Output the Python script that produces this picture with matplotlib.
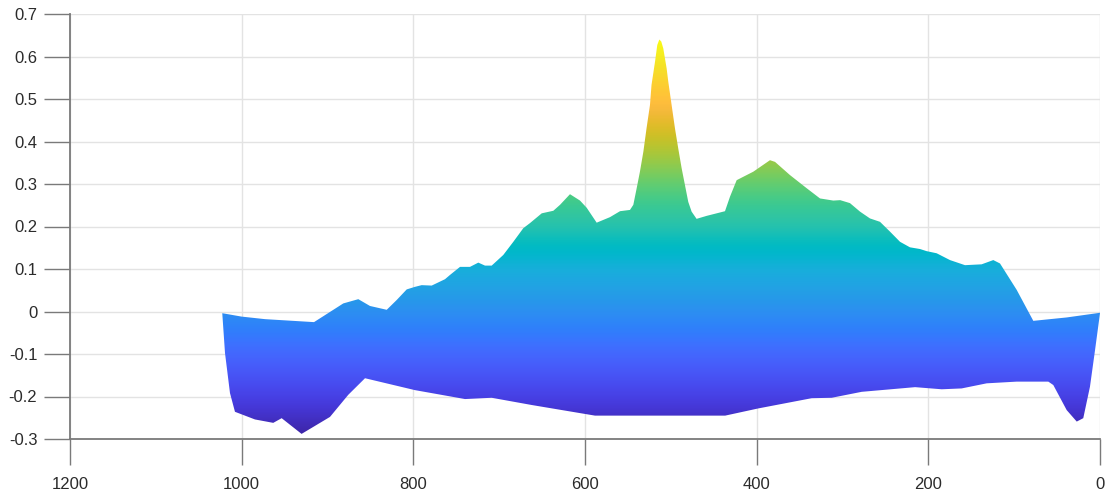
import numpy as np
import matplotlib
matplotlib.use("Agg")
import matplotlib.pyplot as plt
from matplotlib.colors import LinearSegmentedColormap
from matplotlib.patches import Polygon

# Upper edge of the band
x_top = [1022.6, 1000.1, 972.8, 915.7, 893.2, 881.6, 864.1, 850.5, 831.0, 819.4,
         807.7, 798.1, 790.3, 778.6, 763.1, 757.3, 745.6, 734.0, 724.3, 716.5,
         708.7, 695.2, 683.5, 671.9, 664.1, 650.4, 636.9, 629.1, 617.5, 605.8,
         598.0, 586.4, 570.9, 559.2, 547.6, 543.7, 539.8, 536.0, 532.0, 528.3,
         524.3, 522.5, 518.4, 515.8, 513.4, 511.1, 508.8, 504.9, 503.0, 499.1,
         495.2, 491.4, 487.4, 483.6, 479.7, 475.8, 470.0, 458.3, 442.7, 436.9,
         431.1, 423.3, 403.9, 384.5, 378.6, 361.2, 341.7, 326.2, 310.7, 302.7,
         291.3, 279.6, 268.0, 256.3, 244.7, 233.0, 221.4, 209.7, 202.0, 190.3,
         174.8, 157.3, 137.9, 124.3, 116.5, 97.1, 77.7, 38.8, 0.0]
y_top = [-0.004, -0.012, -0.018, -0.025, 0.004, 0.019, 0.029, 0.013, 0.004, 0.027,
         0.052, 0.058, 0.062, 0.061, 0.076, 0.086, 0.105, 0.105, 0.115, 0.108,
         0.108, 0.133, 0.164, 0.196, 0.208, 0.231, 0.237, 0.251, 0.276, 0.261,
         0.244, 0.209, 0.222, 0.236, 0.239, 0.251, 0.290, 0.329, 0.376, 0.431,
         0.486, 0.533, 0.588, 0.627, 0.640, 0.635, 0.619, 0.572, 0.541, 0.486,
         0.431, 0.384, 0.337, 0.298, 0.258, 0.235, 0.218, 0.225, 0.233, 0.236,
         0.270, 0.309, 0.329, 0.356, 0.352, 0.321, 0.290, 0.266, 0.261, 0.262,
         0.255, 0.235, 0.219, 0.211, 0.188, 0.164, 0.151, 0.147, 0.142, 0.137,
         0.121, 0.109, 0.111, 0.121, 0.113, 0.051, -0.022, -0.014, -0.003]

# Lower edge of the band
x_bot = [1022.6, 1019.4, 1013.6, 1007.8, 984.5, 963.2, 953.4, 930.2, 897.1, 875.8,
         856.3, 798.1, 739.8, 708.7, 662.1, 588.3, 506.8, 436.7, 398.0, 335.9,
         312.6, 277.7, 215.4, 184.4, 161.2, 132.0, 97.1, 60.2, 54.4, 38.8,
         27.1, 19.5, 11.7, 5.8, 0.0]
y_bot = [-0.004, -0.098, -0.192, -0.236, -0.254, -0.262, -0.251, -0.288, -0.248, -0.196,
         -0.157, -0.185, -0.206, -0.203, -0.220, -0.245, -0.245, -0.245, -0.228, -0.204,
         -0.203, -0.189, -0.178, -0.183, -0.181, -0.169, -0.165, -0.165, -0.173, -0.232,
         -0.259, -0.251, -0.177, -0.091, -0.004]

x_ticks = [0, 200, 400, 600, 800, 1000, 1200]
y_ticks = [-0.3, -0.2, -0.1, 0, 0.1, 0.2, 0.3, 0.4, 0.5, 0.6, 0.7]
y_tick_labels = ["-0.3", "-0.2", "-0.1", "0", "0.1", "0.2", "0.3", "0.4", "0.5", "0.6", "0.7"]

parula_rgb = [
    (0.2422, 0.1504, 0.6603), (0.2504, 0.1650, 0.7076), (0.2578, 0.1818, 0.7511),
    (0.2647, 0.1978, 0.7952), (0.2706, 0.2147, 0.8364), (0.2751, 0.2342, 0.8710),
    (0.2783, 0.2559, 0.8991), (0.2803, 0.2782, 0.9221), (0.2813, 0.3006, 0.9414),
    (0.2810, 0.3228, 0.9579), (0.2795, 0.3447, 0.9717), (0.2760, 0.3667, 0.9829),
    (0.2699, 0.3892, 0.9906), (0.2602, 0.4123, 0.9952), (0.2440, 0.4358, 0.9988),
    (0.2206, 0.4603, 0.9973), (0.1963, 0.4847, 0.9892), (0.1834, 0.5074, 0.9798),
    (0.1786, 0.5289, 0.9682), (0.1764, 0.5499, 0.9520), (0.1687, 0.5703, 0.9359),
    (0.1540, 0.5902, 0.9218), (0.1460, 0.6091, 0.9079), (0.1380, 0.6276, 0.8973),
    (0.1248, 0.6459, 0.8883), (0.1113, 0.6635, 0.8763), (0.0952, 0.6798, 0.8598),
    (0.0689, 0.6948, 0.8394), (0.0297, 0.7082, 0.8163), (0.0036, 0.7203, 0.7917),
    (0.0067, 0.7312, 0.7660), (0.0433, 0.7411, 0.7394), (0.0964, 0.7500, 0.7120),
    (0.1408, 0.7584, 0.6842), (0.1717, 0.7670, 0.6554), (0.1938, 0.7758, 0.6251),
    (0.2161, 0.7843, 0.5923), (0.2470, 0.7918, 0.5567), (0.2906, 0.7973, 0.5188),
    (0.3406, 0.8008, 0.4789), (0.3909, 0.8029, 0.4354), (0.4456, 0.8024, 0.3909),
    (0.5044, 0.7993, 0.3480), (0.5616, 0.7942, 0.3045), (0.6174, 0.7876, 0.2612),
    (0.6720, 0.7793, 0.2227), (0.7242, 0.7698, 0.1910), (0.7738, 0.7598, 0.1646),
    (0.8203, 0.7498, 0.1535), (0.8634, 0.7406, 0.1596), (0.9035, 0.7330, 0.1774),
    (0.9393, 0.7288, 0.2100), (0.9728, 0.7298, 0.2394), (0.9956, 0.7434, 0.2371),
    (0.9970, 0.7659, 0.2199), (0.9952, 0.7893, 0.2028), (0.9892, 0.8136, 0.1885),
    (0.9786, 0.8386, 0.1766), (0.9676, 0.8639, 0.1643), (0.9610, 0.8890, 0.1537),
    (0.9597, 0.9135, 0.1423), (0.9628, 0.9373, 0.1265), (0.9691, 0.9606, 0.1064),
    (0.9769, 0.9839, 0.0805)]
parula = LinearSegmentedColormap.from_list("parula", parula_rgb)

plt.rcParams["font.family"] = ["Liberation Sans", "DejaVu Sans"]

fig = plt.figure(figsize=(11.07, 4.96), dpi=100)
ax = fig.add_axes([70 / 1107, 57 / 496, 1030 / 1107, 425 / 496])

# band outline built from the two edges
verts = np.column_stack([np.concatenate([x_top, x_bot[::-1]]),
                         np.concatenate([y_top, y_bot[::-1]])])
band = Polygon(verts, closed=True, facecolor="none", edgecolor="none")
ax.add_patch(band)

# colour follows height, from the band's lowest to highest value
zmin, zmax = min(y_bot), max(y_top)
grad = np.linspace(zmin, zmax, 600).reshape(-1, 1)
img = ax.imshow(grad, cmap=parula, vmin=zmin, vmax=zmax, origin="lower",
                extent=[0, 1200, zmin, zmax], aspect="auto", interpolation="bilinear",
                zorder=2)
img.set_clip_path(band)

ax.set_xlim(1200, 0)
ax.set_ylim(-0.3, 0.7)
ax.set_xticks(x_ticks)
ax.set_yticks(y_ticks)
ax.set_yticklabels(y_tick_labels)

ax.grid(True, color="#e3e3e3", linewidth=1.0, zorder=0)
ax.set_axisbelow(True)

for side in ("top", "right"):
    ax.spines[side].set_visible(False)
for side in ("left", "bottom"):
    ax.spines[side].set_color("#7a7a7a")
    ax.spines[side].set_linewidth(1.3)

ax.tick_params(axis="both", direction="out", length=18.5, width=1.0,
               color="#7a7a7a", labelcolor="#2b2b2b", labelsize=12)
ax.tick_params(axis="y", pad=5)
ax.tick_params(axis="x", pad=9)

fig.savefig("out.png", dpi=100)
